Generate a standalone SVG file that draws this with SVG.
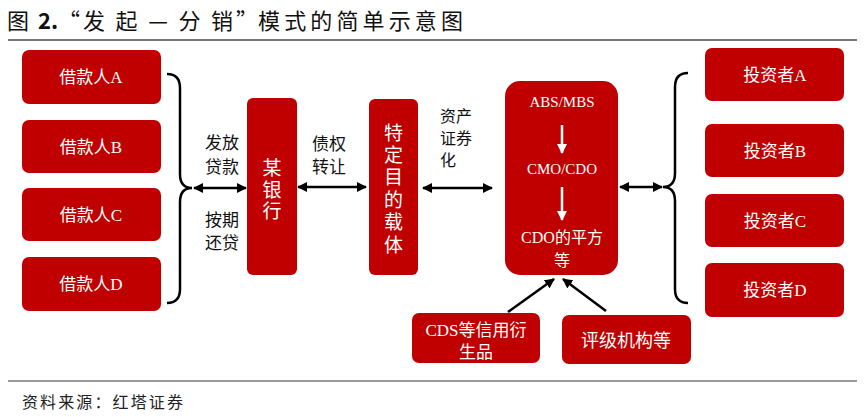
<svg xmlns="http://www.w3.org/2000/svg" width="865" height="417" viewBox="0 0 865 417">
<style>
.box{fill:#C00000;}
.bt{fill:#fff;font-family:"Liberation Serif","Noto Sans CJK SC",serif;text-anchor:middle;}
.lb{fill:#111;font-family:"Noto Sans CJK SC",sans-serif;font-size:17px;}
.lb2{fill:#111;font-family:"Noto Sans CJK SC",sans-serif;font-size:16px;}
.ln{stroke:#000;stroke-width:2.5;fill:none;}
.ttl{font-family:"Noto Sans CJK SC",sans-serif;font-size:22px;fill:#111;}
</style>
<defs>
<marker id="ah" viewBox="0 0 10 10" refX="9" refY="5" markerWidth="4" markerHeight="4" orient="auto-start-reverse"><path d="M0,0 L10,5 L0,10 z" fill="#000"/></marker>
<marker id="aw" viewBox="0 0 10 10" refX="9" refY="5" markerWidth="4" markerHeight="4" orient="auto-start-reverse"><path d="M0,0 L10,5 L0,10 z" fill="#fff"/></marker>
</defs>
<rect width="865" height="417" fill="#fff"/>
<g id="title">
<text class="ttl" x="7" y="29">图</text>
<text class="ttl" x="38" y="29" font-family="Liberation Sans,sans-serif" font-weight="bold">2.</text>
<text class="ttl" x="58" y="29" font-size="20">“</text>
<text class="ttl" x="83" y="29" textLength="150" lengthAdjust="spacing">发起—分销</text>
<text class="ttl" x="236" y="29" font-size="20">”</text>
<text class="ttl" x="258" y="29" textLength="205" lengthAdjust="spacing">模式的简单示意图</text>
<line x1="8" y1="40" x2="857" y2="40" stroke="#777" stroke-width="2"/>
</g>
<g id="borrowerA"><rect class="box" x="22" y="50" width="139" height="54" rx="7"/><text class="bt" x="91" y="83" font-size="17">借款人A</text></g>
<g id="borrowerB"><rect class="box" x="22" y="120" width="139" height="53" rx="7"/><text class="bt" x="91" y="153" font-size="17">借款人B</text></g>
<g id="borrowerC"><rect class="box" x="22" y="188" width="139" height="53" rx="7"/><text class="bt" x="91" y="221" font-size="17">借款人C</text></g>
<g id="borrowerD"><rect class="box" x="22" y="257" width="139" height="54" rx="7"/><text class="bt" x="91" y="290" font-size="17">借款人D</text></g>
<g id="bank"><rect class="box" x="247" y="98" width="50" height="177" rx="6"/>
<text class="bt" x="272" y="175" font-size="19">某</text><text class="bt" x="272" y="197" font-size="19">银</text><text class="bt" x="272" y="218" font-size="19">行</text></g>
<g id="spv"><rect class="box" x="369" y="99" width="49" height="176" rx="6"/>
<text class="bt" x="393.5" y="140" font-size="19">特</text><text class="bt" x="393.5" y="162" font-size="19">定</text><text class="bt" x="393.5" y="184" font-size="19">目</text><text class="bt" x="393.5" y="207" font-size="19">的</text><text class="bt" x="393.5" y="229" font-size="19">载</text><text class="bt" x="393.5" y="252" font-size="19">体</text></g>
<g id="products"><rect class="box" x="505" y="81" width="113" height="194" rx="15"/>
<text class="bt" x="562" y="107" font-size="15">ABS/MBS</text>
<text class="bt" x="562" y="174" font-size="15">CMO/CDO</text>
<text class="bt" x="562" y="243" font-size="16">CDO的平方</text>
<text class="bt" x="562" y="266" font-size="16">等</text>
<line x1="562" y1="125" x2="562" y2="153" stroke="#fff" stroke-width="2.5" marker-end="url(#aw)"/>
<line x1="562" y1="187" x2="562" y2="220" stroke="#fff" stroke-width="2.5" marker-end="url(#aw)"/>
</g>
<g id="investorA"><rect class="box" x="705" y="48" width="139" height="53" rx="7"/><text class="bt" x="775" y="81" font-size="17">投资者A</text></g>
<g id="investorB"><rect class="box" x="705" y="124" width="139" height="53" rx="7"/><text class="bt" x="775" y="157" font-size="17">投资者B</text></g>
<g id="investorC"><rect class="box" x="705" y="194" width="139" height="53" rx="7"/><text class="bt" x="775" y="227" font-size="17">投资者C</text></g>
<g id="investorD"><rect class="box" x="705" y="263" width="139" height="54" rx="7"/><text class="bt" x="775" y="296" font-size="17">投资者D</text></g>
<g id="cds"><rect class="box" x="412" y="313" width="128" height="50" rx="7"/>
<text class="bt" x="476" y="336" font-size="17">CDS等信用衍</text><text class="bt" x="476" y="358" font-size="17">生品</text></g>
<g id="rating"><rect class="box" x="562" y="315" width="129" height="49" rx="7"/>
<text class="bt" x="626" y="347" font-size="18">评级机构等</text></g>
<g id="labels">
<text class="lb" x="205" y="149">发放</text><text class="lb" x="205" y="173">贷款</text>
<text class="lb" x="205" y="226">按期</text><text class="lb" x="205" y="249">还贷</text>
<text class="lb" x="312" y="150">债权</text><text class="lb" x="312" y="173">转让</text>
<text class="lb2" x="440" y="122">资产</text><text class="lb2" x="440" y="144">证券</text><text class="lb2" x="440" y="166">化</text>
</g>
<g id="connectors">
<path class="ln" d="M167,74 Q180,74 180,88 L180,174 Q180,188 192,188 Q180,188 180,202 L180,289 Q180,303 167,303"/>
<path class="ln" d="M688,73 Q675,73 675,87 L675,173 Q675,187 663,187 Q675,187 675,201 L675,289 Q675,303 688,303"/>
<line class="ln" x1="194" y1="188" x2="246" y2="188" marker-start="url(#ah)" marker-end="url(#ah)"/>
<line class="ln" x1="298" y1="187" x2="366" y2="187" marker-start="url(#ah)" marker-end="url(#ah)"/>
<line class="ln" x1="423" y1="188" x2="492" y2="188" marker-start="url(#ah)" marker-end="url(#ah)"/>
<line class="ln" x1="620" y1="187" x2="662" y2="187" marker-start="url(#ah)" marker-end="url(#ah)"/>
<line class="ln" x1="508" y1="312" x2="554" y2="279" marker-end="url(#ah)"/>
<line class="ln" x1="606" y1="311" x2="563" y2="279" marker-end="url(#ah)"/>
</g>
<g id="footer">
<line x1="8" y1="381" x2="857" y2="381" stroke="#777" stroke-width="1.5"/>
<text x="22" y="408" font-family="Noto Sans CJK SC,sans-serif" font-size="16" fill="#222" textLength="161" lengthAdjust="spacing">资料来源：红塔证券</text>
</g>
</svg>
